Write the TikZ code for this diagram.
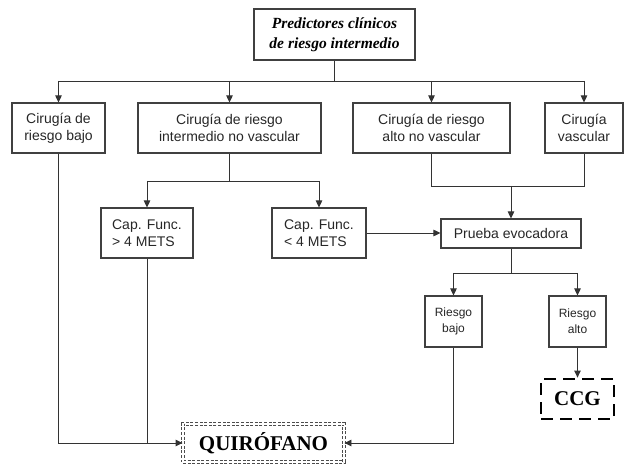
\documentclass[tikz,border=0pt]{standalone}
\usepackage{fontspec}
\setmainfont{Liberation Sans}
\newfontfamily\serifb{Liberation Serif}
\usetikzlibrary{arrows.meta,calc}
\begin{document}
\begin{tikzpicture}[x=1pt,y=-1pt,
  box/.style={draw=black!75, line width=1.1pt, inner sep=0pt, minimum height=50pt, align=center, font=\fontsize{14}{17}\selectfont, text=black!85},
  smallbox/.style={box, minimum width=57pt, minimum height=51pt, font=\fontsize{12}{16}\selectfont},
  conn/.style={draw=black!80, line width=0.9pt},
  arr/.style={conn, -{Triangle[length=7pt,width=6.5pt]}},
]
\useasboundingbox (0,0) rectangle (624,465);
% nodes
\node[box, minimum width=161pt, minimum height=51pt, text=black, font=\serifb\bfseries\itshape\fontsize{15.5}{20}\selectfont] (top) at (334.5,34.5) {Predictores clínicos\\de riesgo intermedio};
\node[box, minimum width=93pt] (b1) at (58.5,128) {Cirugía de\\riesgo bajo};
\node[box, minimum width=183pt] (b2) at (229.5,128) {Cirugía de riesgo\\intermedio no vascular};
\node[box, minimum width=157pt] (b3) at (431.5,128) {Cirugía de riesgo\\alto no vascular};
\node[box, minimum width=78pt] (b4) at (584,128) {Cirugía\\vascular};
\node[box, minimum width=92pt, align=left] (c1) at (147,233) {Cap. Func.\\> 4 METS};
\node[box, minimum width=94pt, align=left] (c2) at (319,233) {Cap. Func.\\< 4 METS};
\node[box, minimum width=140pt, minimum height=29pt] (p) at (511,233.5) {Prueba evocadora};
\node[smallbox] (rb) at (453.5,321.5) {Riesgo\\bajo};
\node[smallbox] (ra) at (577.5,321.5) {Riesgo\\alto};
\node[draw=black, line width=2.8pt, dash pattern=on 12pt off 7pt, minimum width=73pt, minimum height=40pt, inner sep=0pt, font=\serifb\bfseries\fontsize{21}{24}\selectfont] (ccg) at (577.5,399) {CCG};
\node[draw=black!70, line width=0.9pt, double=white, double distance=2.4pt, dash pattern=on 3pt off 1.6pt, minimum width=161pt, minimum height=38pt, inner sep=0pt, font=\serifb\bfseries\fontsize{21}{24}\selectfont] (q) at (263.5,443) {QUIRÓFANO};
% coordinates
\coordinate (bus) at (334.5,81);
\coordinate (split2) at (229.5,181);
\coordinate (join34) at (511,186);
\coordinate (splitp) at (511,273);
\coordinate (low) at (0,443);
% top bus
\draw[conn] (top.south) -- (bus);
\draw[conn] (bus -| b1.north) -- (bus -| b4.north);
\foreach \n in {b1,b2,b3,b4} \draw[arr] (bus -| \n.north) -- (\n.north);
% b2 split
\draw[conn] (b2.south) -- (split2);
\draw[conn] (split2 -| c1.north) -- (split2 -| c2.north);
\draw[arr] (split2 -| c1.north) -- (c1.north);
\draw[arr] (split2 -| c2.north) -- (c2.north);
% b3 b4 join
\draw[conn] (b3.south) -- (join34 -| b3.south) -- (join34 -| b4.south) -- (b4.south);
\draw[arr] (join34) -- (p.north);
% c2 to p
\draw[arr] (c2.east) -- (c2.east -| p.west);
% p split
\draw[conn] (p.south) -- (splitp);
\draw[conn] (splitp -| rb.north) -- (splitp -| ra.north);
\draw[arr] (splitp -| rb.north) -- (rb.north);
\draw[arr] (splitp -| ra.north) -- (ra.north);
\draw[arr] (ra.south) -- (ccg.north);
% to quirofano
\draw[arr] (b1.south) -- (low -| b1.south) -- (q.west);
\draw[conn] (c1.south) -- (low -| c1.south);
\draw[arr] (rb.south) -- (low -| rb.south) -- (q.east);
\end{tikzpicture}
\end{document}
